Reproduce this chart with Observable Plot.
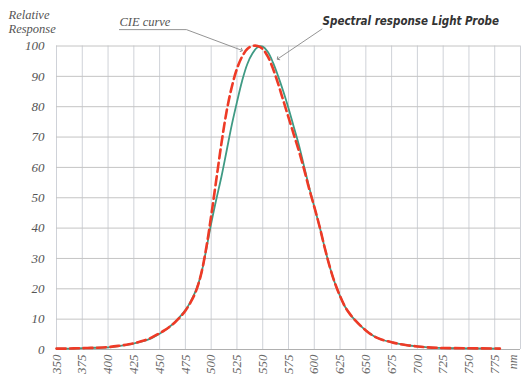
<!DOCTYPE html>
<html>
<head>
<meta charset="utf-8">
<script src="https://cdn.jsdelivr.net/npm/d3@7"></script>
<script src="https://cdn.jsdelivr.net/npm/@observablehq/plot@0.6"></script>
<style>
  html, body { margin: 0; padding: 0; background: #fff; }
  #chart svg { display: block; }
</style>
</head>
<body>
<div id="chart"></div>
<script>
// Wavelength (nm)
const wavelength = [350,360,370,380,390,400,410,420,430,440,450,455,460,465,470,475,480,485,490,495,
  500,505,510,515,520,525,530,535,540,545,550,555,560,565,570,575,580,585,590,595,
  600,605,610,615,620,625,630,635,640,645,650,655,660,665,670,675,680,690,700,710,725,750,780];
// CIE curve (red dashed)
const cieCurve = [0.3,0.3,0.4,0.5,0.6,0.8,1.2,1.7,2.5,3.6,5.4,6.4,7.6,9.0,10.7,12.8,15.5,19,24.5,33,
  44,56,68,78.5,86.5,92.5,96.5,99,100,100,99,96.5,92.5,87.5,82,76.5,71,65.5,59.5,53,
  47,40.7,33.7,27.3,21.9,17.6,14,11.5,9.5,7.8,6.3,5,4,3.3,2.8,2.4,2,1.4,1.0,0.7,0.5,0.4,0.3];
// Spectral response Light Probe (green solid)
const lightProbe = [0.3,0.3,0.4,0.5,0.6,0.7,1.1,1.6,2.4,3.4,5.2,6.3,7.6,9.1,10.9,13,15.7,19.3,24.5,32.5,
  41.5,49.5,57,65.5,74,81.5,88.5,94,97.5,99.6,99.8,98,94.5,90,85,79.5,73.5,67.5,60.5,53.5,
  47,40.7,33.7,27.3,21.9,17.6,14,11.5,9.5,7.8,6.3,5,4,3.3,2.8,2.4,2,1.4,1.0,0.7,0.5,0.4,0.3];

const xTicks = d3.range(350, 801, 25);
const xLabelTicks = d3.range(350, 776, 25);
const yTicks = d3.range(0, 101, 10);
const unitLabel = "nm";

// Annotation anchors in data units (wavelength, response)
const cieLabel = {text: "CIE curve", x: 411, y: 106.6};
const cieLeader = [{x: 411, y: 105.4}, {x: 476, y: 105.4}, {x: 529.5, y: 98.6}];
const probeLabel = {text: "Spectral response Light Probe", x: 608, y: 106.9};
const probeLeader = [{x: 607.5, y: 105.6}, {x: 564.8, y: 95.8}];

const rows = wavelength.map((w, i) => ({w, cie: cieCurve[i], probe: lightProbe[i]}));

const serif = "'Liberation Serif', 'DejaVu Serif', serif";

const chart = Plot.plot({
  width: 524,
  height: 375,
  marginLeft: 56,
  marginRight: 4,
  marginTop: 45.5,
  marginBottom: 26,
  style: {background: "#fff", overflow: "visible"},
  x: {domain: [350, 800], ticks: xTicks},
  y: {domain: [0, 100], ticks: yTicks},
  marks: [
    Plot.gridX(xTicks, {stroke: "#cfd2d8", strokeOpacity: 1, strokeWidth: 1}),
    Plot.gridY(yTicks, {stroke: "#c4c4c4", strokeOpacity: 1, strokeWidth: 1}),
    Plot.ruleY([0], {stroke: "#b0b0b0", strokeWidth: 1.2}),
    Plot.line(rows, {x: "w", y: "probe", stroke: "#3f9a84", strokeWidth: 1.8, curve: "catmull-rom"}),
    Plot.line(rows, {x: "w", y: "cie", stroke: "#ee3a26", strokeWidth: 2.6, strokeDasharray: "9,4.5", curve: "catmull-rom"}),
    Plot.axisY(yTicks, {tickSize: 0, tickPadding: 12, fontSize: 13, fontStyle: "italic", fontFamily: serif, fill: "#555", label: null}),
    Plot.axisX(xLabelTicks, {tickSize: 0, tickPadding: 5, tickRotate: -90, fontSize: 13, fontStyle: "italic", fontFamily: serif, fill: "#666", label: null,
      tickFormat: d => String(d)}),
    Plot.text([unitLabel], {x: 800, frameAnchor: "bottom", dx: -4, dy: 5, rotate: -90, textAnchor: "end",
      fontSize: 12, fontStyle: "italic", fontFamily: serif, fill: "#666"}),
    Plot.text(["Relative\nResponse"], {frameAnchor: "top-left", dx: -48, dy: -37, textAnchor: "start", lineAnchor: "top",
      fontSize: 12.5, fontStyle: "italic", fontFamily: serif, fill: "#555", lineHeight: 1.1}),
    Plot.line(cieLeader, {x: "x", y: "y", stroke: "#888", strokeWidth: 0.9, markerEnd: "arrow"}),
    Plot.line(probeLeader, {x: "x", y: "y", stroke: "#888", strokeWidth: 0.9, markerEnd: "arrow"}),
    Plot.text([cieLabel], {x: "x", y: "y", text: "text", textAnchor: "start", lineAnchor: "bottom",
      fontSize: 12.5, fontStyle: "italic", fontFamily: serif, fill: "#555"}),
    Plot.text([probeLabel], {x: "x", y: "y", text: "text", textAnchor: "start", lineAnchor: "bottom",
      fontSize: 11.5, fontStyle: "italic", fontWeight: "bold", fontFamily: "'Liberation Sans Narrow', 'DejaVu Sans Condensed', 'Liberation Sans', sans-serif", fill: "#333"})
  ]
});
document.getElementById("chart").appendChild(chart);
</script>
</body>
</html>
